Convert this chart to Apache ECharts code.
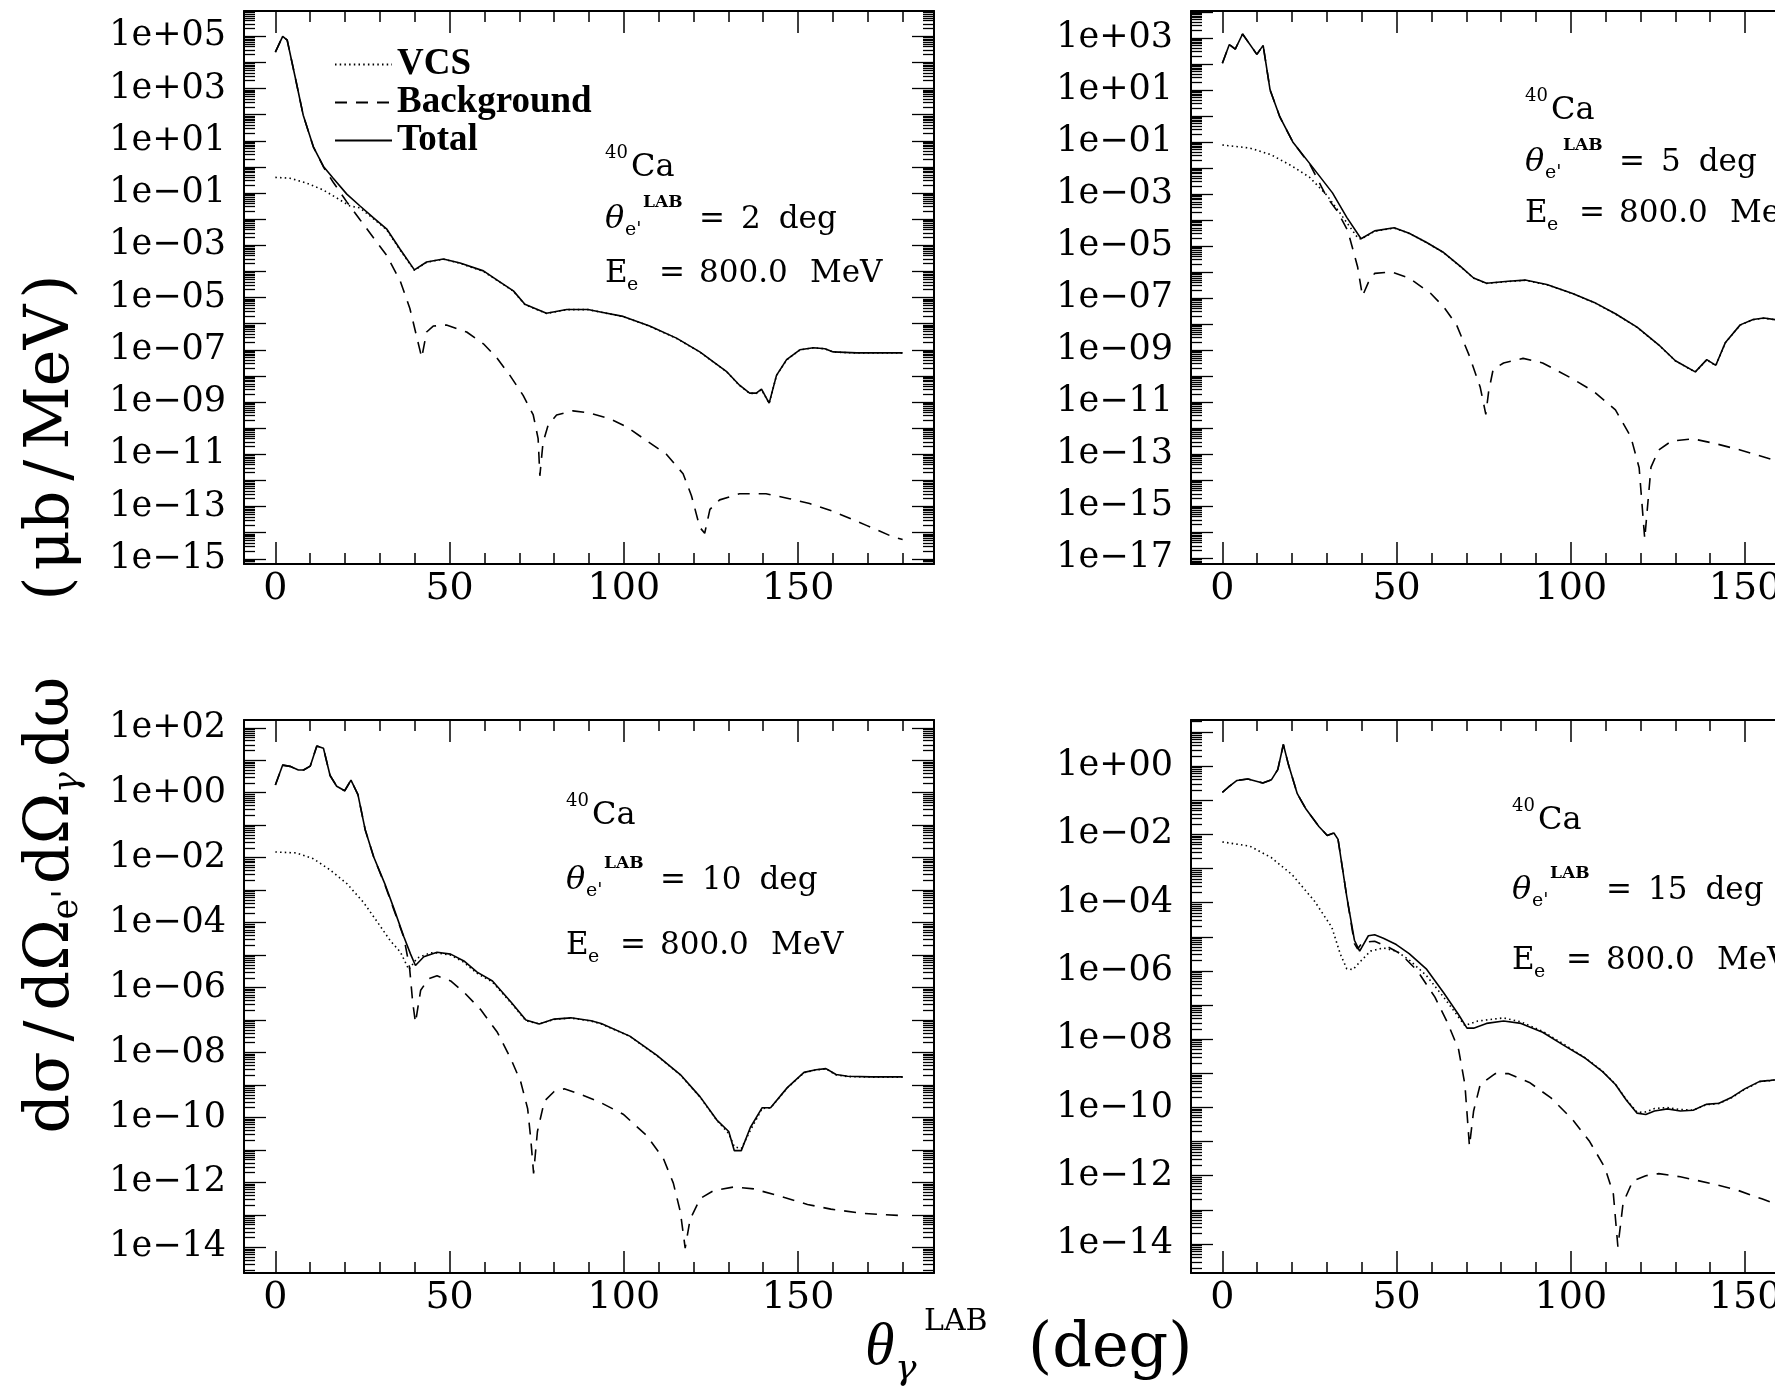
<!DOCTYPE html>
<html lang="en">
<head>
<meta charset="UTF-8">
<title>40Ca VCS and background cross sections</title>
<script src="https://cdn.jsdelivr.net/npm/echarts@6.0.0/dist/echarts.min.js"></script>
<style>
  html, body { margin: 0; padding: 0; background: #fff; }
  #main { width: 1775px; height: 1388px; }
</style>
</head>
<body>
<div id="main"></div>
<script>
// photon angle (deg) vs cross section (ub/MeV)

// theta_e' = 2 deg
var tlTotal = [[0,2.5e4],[2.1,1.0e5],[3.4,7.1e4],[5.6,3.1e3],[8,95],[10.9,5.9],[13.8,1.05],[16.6,0.37],[20.5,0.091],[24.3,0.032],[28.1,0.0115],[31.9,4.3e-3],[35.8,7.1e-4],[39.9,1.15e-4],[43.4,2.3e-4],[48.2,3.0e-4],[53,2.1e-4],[59.7,1.05e-4],[64.4,4.0e-5],[68.3,1.8e-5],[71.6,5.5e-6],[77.8,2.5e-6],[83.6,3.5e-6],[89.7,3.5e-6],[94,2.7e-6],[99.8,1.9e-6],[107.4,8.1e-7],[115.1,2.8e-7],[121.8,8.3e-8],[129.4,1.5e-8],[133.2,4.4e-9],[136.1,2.2e-9],[138,2.2e-9],[139.5,3.1e-9],[141.7,9.1e-10],[143.8,1.05e-8],[146.7,4.2e-8],[150.5,1.0e-7],[154.4,1.2e-7],[157.7,1.1e-7],[160.1,8.3e-8],[166.8,7.6e-8],[180,7.6e-8]];
var tlVcs = [[0,0.40],[4.2,0.37],[9,0.24],[13.8,0.13],[17.6,0.065],[21.4,0.032],[24.3,0.027],[28.1,0.0105],[31.9,4.0e-3],[35.8,6.6e-4],[39.9,1.1e-4],[43.4,2.25e-4],[48.2,2.95e-4],[53,2.05e-4],[59.7,1.0e-4],[64.4,3.9e-5],[68.3,1.75e-5],[71.6,5.4e-6],[77.8,2.45e-6],[83.6,3.45e-6],[89.7,3.45e-6],[94,2.65e-6],[99.8,1.87e-6],[107.4,8.0e-7],[115.1,2.75e-7],[121.8,8.2e-8],[129.4,1.48e-8],[133.2,4.3e-9],[136.1,2.15e-9],[138,2.15e-9],[139.5,3.0e-9],[141.7,8.9e-10],[143.8,1.03e-8],[146.7,4.1e-8],[150.5,9.9e-8],[154.4,1.19e-7],[157.7,1.09e-7],[160.1,8.2e-8],[166.8,7.5e-8],[180,7.5e-8]];
var tlBg = [[0,2.5e4],[2.1,1.0e5],[3.4,7.1e4],[5.6,3.1e3],[8,95],[10.9,5.9],[13.8,1.0],[16.6,0.26],[20.5,0.046],[24.3,9.5e-3],[28.1,2.0e-3],[31.9,4.2e-4],[35.8,4.4e-5],[38.6,3.8e-6],[40.5,3.4e-7],[42,5.0e-8],[43.4,4.8e-7],[45.3,8.1e-7],[49.1,8.9e-7],[54.9,4.8e-7],[59.7,1.7e-7],[63.5,5.0e-8],[67.3,1.05e-8],[71.1,1.8e-9],[74,3.2e-10],[75.4,4.0e-11],[75.9,1.5e-12],[76.8,2.8e-11],[78.3,1.35e-10],[80.7,3.2e-10],[85.4,4.6e-10],[90.2,3.8e-10],[95.9,2.3e-10],[100.7,1.15e-10],[106.4,3.4e-11],[112.2,1.0e-11],[117,1.8e-12],[119.4,2.6e-13],[121.8,1.6e-14],[123.2,9.5e-15],[124.7,7.8e-14],[127.5,1.8e-13],[133.2,3.1e-13],[140.8,3.1e-13],[147.5,2.0e-13],[153.3,1.3e-13],[160.1,6.5e-14],[169.6,1.9e-14],[177.3,6.8e-15],[180,5.5e-15]];

// theta_e' = 5 deg
var trTotal = [[0,105],[2,550],[3.7,370],[5.8,1400],[9.9,230],[11.7,510],[13.7,9.8],[16.5,0.91],[20.2,0.10],[25.2,0.014],[31.6,1.1e-3],[35.7,1.26e-4],[39.8,1.9e-5],[43.7,3.8e-5],[49.3,5.0e-5],[53.6,3.1e-5],[58.5,1.4e-5],[63.5,5.6e-6],[68.4,1.6e-6],[72.1,5.9e-7],[75.8,3.7e-7],[82,4.4e-7],[86.9,4.9e-7],[93.1,3.3e-7],[100.5,1.5e-7],[106.7,6.8e-8],[112.8,2.5e-8],[119,7.6e-9],[125.2,1.6e-9],[130,3.9e-10],[135.7,1.45e-10],[139,4.3e-10],[141.6,2.6e-10],[144.3,1.9e-9],[148.6,9.3e-9],[152.3,1.5e-8],[155.4,1.7e-8],[160,1.4e-8],[168,1.0e-8],[180,1.0e-8]];
var trVcs = [[0,0.076],[7.9,0.058],[14,0.032],[20,0.0117],[25,4.4e-3],[30,8.9e-4],[33.8,1.8e-4],[38.8,2.1e-5],[39.8,1.85e-5],[43.7,3.7e-5],[49.3,4.9e-5],[53.6,3.05e-5],[58.5,1.38e-5],[63.5,5.5e-6],[68.4,1.58e-6],[72.1,5.8e-7],[75.8,3.65e-7],[82,4.3e-7],[86.9,4.8e-7],[93.1,3.25e-7],[100.5,1.48e-7],[106.7,6.7e-8],[112.8,2.45e-8],[119,7.5e-9],[125.2,1.58e-9],[130,3.85e-10],[135.7,1.43e-10],[139,4.2e-10],[141.6,2.55e-10],[144.3,1.88e-9],[148.6,9.2e-9],[152.3,1.48e-8],[155.4,1.68e-8],[160,1.38e-8],[168,9.9e-9],[180,9.9e-9]];
var trBg = [[0,105],[2,550],[3.7,370],[5.8,1400],[9.9,230],[11.7,510],[13.7,9.8],[16.5,0.91],[20.2,0.10],[25.2,0.013],[30,7.4e-4],[33,2.2e-4],[36,3.8e-5],[38.8,1.6e-6],[40.2,1.2e-7],[41.9,4.0e-7],[43.7,8.9e-7],[48.6,1.0e-6],[53.6,5.9e-7],[59.8,1.5e-7],[63.5,4.6e-8],[67.2,9.3e-9],[70.9,5.9e-10],[74,3.7e-11],[75.6,3.4e-12],[76.4,2.5e-11],[77.7,1.8e-10],[80.7,3.2e-10],[86.3,4.8e-10],[91.9,3.2e-10],[100.5,7.9e-11],[106.7,2.5e-11],[112.8,5.0e-12],[117.2,4.7e-13],[119.6,3.0e-14],[121.2,5.6e-17],[123,3.2e-14],[125.2,1.45e-13],[128.9,3.2e-13],[135,3.9e-13],[141.2,2.6e-13],[148.6,1.45e-13],[157.3,6.5e-14],[168,2.5e-14],[180,7.9e-15]];

// theta_e' = 10 deg
var blTotal = [[0,1.74],[2.1,7.1],[4.2,6.5],[6.6,5.0],[8.1,5.0],[10,6.6],[11.9,27.5],[13.8,23.4],[15.7,3.4],[17.6,1.58],[19.9,1.15],[21.7,2.45],[23.7,0.87],[25.8,0.071],[28.2,0.0107],[31.6,1.4e-3],[34,2.75e-4],[36.9,3.6e-5],[38.8,1.07e-5],[40.2,4.8e-6],[42.6,8.9e-6],[46.4,1.23e-5],[50.3,1.07e-5],[54.1,6.6e-6],[57.9,3.0e-6],[62.3,1.6e-6],[67.6,3.6e-7],[71.9,1.0e-7],[75.7,7.6e-8],[80,1.07e-7],[84.8,1.17e-7],[90.6,9.5e-8],[93.5,7.8e-8],[101.7,3.2e-8],[109.4,8.3e-9],[116.2,2.1e-9],[121.9,4.3e-10],[126.7,8.3e-11],[130.1,3.7e-11],[131.7,9.5e-12],[133.7,9.5e-12],[136.3,4.9e-11],[139.7,2.0e-10],[142.1,2.0e-10],[146.9,8.3e-10],[151.7,2.45e-9],[155.1,2.95e-9],[158,3.2e-9],[160.9,2.1e-9],[164.2,1.86e-9],[171,1.78e-9],[180,1.78e-9]];
var blVcs = [[0,0.015],[6.1,0.014],[10.9,9.3e-3],[15.7,4.2e-3],[20.5,1.6e-3],[25.3,4.2e-4],[29.2,1.07e-4],[33,2.75e-5],[35.9,1.23e-5],[38.3,3.6e-6],[40.7,8.1e-6],[44.5,1.17e-5],[46.4,1.17e-5],[50.3,1.0e-5],[54.1,6.0e-6],[57.9,2.75e-6],[62.3,1.48e-6],[67.6,3.4e-7],[71.9,9.5e-8],[75.7,7.6e-8],[80,1.05e-7],[84.8,1.15e-7],[90.6,9.3e-8],[93.5,7.6e-8],[101.7,3.15e-8],[109.4,8.1e-9],[116.2,2.05e-9],[121.9,4.2e-10],[126.7,8.1e-11],[130.1,3.2e-11],[131.7,1.26e-11],[133.7,1.1e-11],[136.3,4.0e-11],[139.7,1.9e-10],[142.1,1.95e-10],[146.9,8.1e-10],[151.7,2.4e-9],[155.1,2.9e-9],[158,3.15e-9],[160.9,2.05e-9],[164.2,1.82e-9],[171,1.75e-9],[180,1.75e-9]];
var blBg = [[0,1.74],[2.1,7.1],[4.2,6.5],[6.6,5.0],[8.1,5.0],[10,6.6],[11.9,27.5],[13.8,23.4],[15.7,3.4],[17.6,1.58],[19.9,1.15],[21.7,2.45],[23.7,0.87],[25.8,0.071],[28.2,0.0107],[31.6,1.3e-3],[34,2.5e-4],[36.9,3.4e-5],[38.5,4.2e-6],[39.4,3.6e-7],[40.2,8.3e-8],[41.7,8.3e-7],[44,1.86e-6],[46.4,2.3e-6],[50.3,1.6e-6],[54.1,7.2e-7],[58.9,2.1e-7],[63.7,4.2e-8],[67.6,6.3e-9],[70.4,1.26e-9],[72.4,1.86e-10],[73.3,2.1e-11],[74.1,1.9e-12],[75.2,3.7e-11],[77.2,3.2e-10],[80,6.3e-10],[82.9,7.6e-10],[86.8,5.5e-10],[92.5,3.2e-10],[99.8,1.26e-10],[106.5,2.8e-11],[111.3,5.6e-12],[114.2,9.5e-13],[116.2,1.26e-13],[117.6,9.5e-15],[119,7.2e-14],[121.9,3.2e-13],[125.8,5.6e-13],[131.5,7.2e-13],[137.3,6.3e-13],[145,3.7e-13],[152.7,2.1e-13],[159.4,1.5e-13],[169,1.1e-13],[179.6,9.5e-14]];

// theta_e' = 15 deg
var brTotal = [[0,0.17],[1.7,0.24],[4.2,0.38],[7.3,0.42],[11.6,0.32],[14.1,0.40],[15.9,0.79],[17.5,4.3],[19,1.07],[21.5,0.155],[24,0.055],[27.7,0.017],[30.1,9.3e-3],[32,0.011],[33.2,7.1e-3],[35.7,1.5e-4],[37.9,7.9e-6],[39.4,3.8e-6],[41.9,1.07e-5],[43.7,1.15e-5],[46.2,9.1e-6],[49.9,5.9e-6],[53.6,3.2e-6],[58.5,1.15e-6],[63.5,2.3e-7],[67.8,5.2e-8],[70.2,2.1e-8],[72.1,2.1e-8],[75.8,2.9e-8],[80.7,3.4e-8],[85.7,2.9e-8],[91.9,1.6e-8],[98,6.6e-9],[104.2,2.75e-9],[109.1,1.12e-9],[112.8,4.7e-10],[115.9,1.66e-10],[119,6.8e-11],[121.5,6.2e-11],[124,7.9e-11],[127.7,9.1e-11],[131.4,7.9e-11],[135.1,8.3e-11],[138.8,1.23e-10],[142.5,1.32e-10],[146.2,2.0e-10],[149.9,3.5e-10],[154.2,5.8e-10],[157.3,6.2e-10],[165,7.9e-10],[180,1.0e-9]];
var brVcs = [[0,6.0e-3],[7.9,4.5e-3],[14,2.1e-3],[20,6.6e-4],[26.4,1.12e-4],[31.4,1.9e-5],[33.8,3.2e-6],[35.7,1.15e-6],[37.5,1.1e-6],[39.4,1.8e-6],[42.5,3.8e-6],[46.2,4.7e-6],[49.9,3.8e-6],[53.6,2.1e-6],[58.5,7.4e-7],[63.5,1.7e-7],[69.6,2.5e-8],[73.3,3.4e-8],[80.7,4.2e-8],[85.7,3.2e-8],[91.9,1.7e-8],[98,7.1e-9],[104.2,2.8e-9],[109.1,1.15e-9],[112.8,4.8e-10],[115.9,1.7e-10],[119,7.2e-11],[121.5,7.4e-11],[124,9.3e-11],[127.7,1.0e-10],[131.4,8.7e-11],[135.1,8.3e-11],[138.8,1.2e-10],[142.5,1.3e-10],[146.2,1.95e-10],[149.9,3.4e-10],[154.2,5.7e-10],[157.3,6.1e-10],[165,7.8e-10],[180,9.8e-10]];
var brBg = [[0,0.17],[1.7,0.24],[4.2,0.38],[7.3,0.42],[11.6,0.32],[14.1,0.40],[15.9,0.79],[17.5,4.3],[19,1.07],[21.5,0.155],[24,0.055],[27.7,0.017],[30.1,9.3e-3],[32,0.011],[33.2,7.1e-3],[35.7,1.5e-4],[37.9,6.3e-6],[38.8,4.4e-6],[40.2,6.8e-6],[43.7,7.4e-6],[47.4,5.1e-6],[51.1,3.2e-6],[56,1.0e-6],[61,1.7e-7],[64.7,2.9e-8],[67.8,4.9e-9],[69.6,4.7e-10],[70.9,7.4e-12],[72.1,7.9e-11],[74,4.7e-10],[78.3,9.8e-10],[82,9.8e-10],[88.1,5.4e-10],[94.3,1.9e-10],[100.5,4.4e-11],[105.4,1.0e-11],[109.8,1.7e-12],[112.2,2.9e-13],[113.5,8.3e-15],[115,1.6e-13],[117.8,7.1e-13],[121.5,1.0e-12],[125.2,1.15e-12],[131.4,9.3e-13],[140,6.0e-13],[147.4,3.9e-13],[154.8,2.1e-13],[157.9,1.6e-13],[168,1.0e-13],[180,6.3e-14]];

// tick labels
var xLabels = [0, 50, 100, 150];
var xMinor = [10, 20, 30, 40, 60, 70, 80, 90, 110, 120, 130, 140, 160, 170, 180];
var yLabelsTL = [1e5, 1e3, 1e1, 1e-1, 1e-3, 1e-5, 1e-7, 1e-9, 1e-11, 1e-13, 1e-15];
var yLabelsTR = [1e3, 1e1, 1e-1, 1e-3, 1e-5, 1e-7, 1e-9, 1e-11, 1e-13, 1e-15, 1e-17];
var yLabelsBL = [1e2, 1e0, 1e-2, 1e-4, 1e-6, 1e-8, 1e-10, 1e-12, 1e-14];
var yLabelsBR = [1e0, 1e-2, 1e-4, 1e-6, 1e-8, 1e-10, 1e-12, 1e-14];
var seriesNames = ['VCS', 'Background', 'Total'];

// layout of the four frames (y ranges are log10 of the axis ends)
var panels = [
  { left: 244, top: 11, lo: -15.2, hi: 5.97, labels: yLabelsTL, vcs: tlVcs, bg: tlBg, total: tlTotal,
    th: '2', ax: 605, ay: [168, 220, 274] },
  { left: 1191, top: 11, lo: -17.22, hi: 4.03, labels: yLabelsTR, vcs: trVcs, bg: trBg, total: trTotal,
    th: '5', ax: 1525, ay: [111, 163, 214] },
  { left: 244, top: 720, lo: -14.79, hi: 2.24, labels: yLabelsBL, vcs: blVcs, bg: blBg, total: blTotal,
    th: '10', ax: 566, ay: [816, 881, 946] },
  { left: 1191, top: 720, lo: -14.85, hi: 1.35, labels: yLabelsBR, vcs: brVcs, bg: brBg, total: brTotal,
    th: '15', ax: 1512, ay: [821, 891, 961] }
];
var gridW = 690, gridH = 553;

var serif = 'DejaVu Serif';

function decades(lo, hi) {
  var a = [];
  for (var e = Math.ceil(lo); e <= Math.floor(hi); e++) a.push(Math.pow(10, e));
  return a;
}
function minors(lo, hi) {
  var a = [];
  for (var e = Math.floor(lo); e <= Math.ceil(hi); e++) {
    for (var k = 2; k <= 9; k++) {
      var v = k * Math.pow(10, e), l = Math.log10(v);
      if (l > lo && l < hi) a.push(v);
    }
  }
  return a;
}
function expLabel(v) {
  var e = Math.round(Math.log10(v));
  var n = Math.abs(e);
  return '1e' + (e < 0 ? '\u2212' : '+') + (n < 10 ? '0' : '') + n;
}

var axisLine = { show: true, onZero: false, lineStyle: { color: '#000', width: 2 } };
var noLine = { show: false, onZero: false };

function xAx(g, pos, ticks, len, withLabel, line) {
  return {
    type: 'value', gridIndex: g, position: pos, min: -9, max: 189,
    axisLine: line ? axisLine : noLine,
    axisTick: { show: true, inside: true, length: len, customValues: ticks,
      lineStyle: { color: '#000', width: 1.5 } },
    axisLabel: withLabel ? { show: true, customValues: xLabels, margin: 6, color: '#000',
      fontFamily: serif, fontSize: 38 } : { show: false },
    splitLine: { show: false }
  };
}
function yAx(g, p, pos, ticks, len, withLabel, line) {
  return {
    type: 'log', logBase: 10, gridIndex: g, position: pos,
    min: Math.pow(10, p.lo), max: Math.pow(10, p.hi),
    axisLine: line ? axisLine : noLine,
    axisTick: { show: true, inside: true, length: len, customValues: ticks,
      lineStyle: { color: '#000', width: 1.3 } },
    axisLabel: withLabel ? { show: true, customValues: p.labels, margin: 18, color: '#000',
      fontFamily: serif, fontSize: 35, formatter: expLabel } : { show: false },
    splitLine: { show: false },
    minorTick: { show: false }
  };
}

var grids = [], xAxes = [], yAxes = [], series = [];
panels.forEach(function (p, g) {
  grids.push({ left: p.left, top: p.top, width: gridW, height: gridH,
    containLabel: false, outerBoundsMode: 'none', show: false });
  xAxes.push(xAx(g, 'bottom', xLabels, 22, true, true));
  xAxes.push(xAx(g, 'bottom', xMinor, 11, false, false));
  xAxes.push(xAx(g, 'top', xLabels, 22, false, true));
  xAxes.push(xAx(g, 'top', xMinor, 11, false, false));
  var dec = decades(p.lo, p.hi), mn = minors(p.lo, p.hi);
  yAxes.push(yAx(g, p, 'left', dec, 22, true, true));
  yAxes.push(yAx(g, p, 'left', mn, 11, false, false));
  yAxes.push(yAx(g, p, 'right', dec, 22, false, true));
  yAxes.push(yAx(g, p, 'right', mn, 11, false, false));
  var sets = [[p.vcs, [1.5, 3.2], 'VCS'], [p.bg, [12, 9], 'Background'], [p.total, 'solid', 'Total']];
  sets.forEach(function (s) {
    series.push({
      name: s[2], type: 'line', xAxisIndex: 4 * g, yAxisIndex: 4 * g,
      data: s[0], showSymbol: false, symbol: 'none', silent: true, clip: true,
      itemStyle: { color: '#000' },
      lineStyle: { color: '#000', width: 1.6, type: s[1] }
    });
  });
});

// text pieces placed by hand (sub/superscripts)
var mctx = document.createElement('canvas').getContext('2d');
function textWidth(t, size, st) {
  mctx.font = (st || 'normal') + ' normal ' + size + 'px "' + serif + '"';
  return mctx.measureText(t).width;
}
function T(t, x, y, size, o) {
  o = o || {};
  return {
    type: 'text', x: x, y: y, silent: true, z: 100,
    style: { text: t, fontSize: size, fontFamily: o.fam || serif, fontStyle: o.st || 'normal',
      fontWeight: o.w || 'normal', fill: '#000', align: o.align || 'left', verticalAlign: 'middle',
      textAlign: o.align || 'left', textVerticalAlign: 'middle' }
  };
}
function annot(p) {
  var x = p.ax, y = p.ay, fs = 31;
  var degX = x + 136 + textWidth(p.th, fs) + 18;
  return [
    T('40', x, y[0] - 15, 18),
    T('Ca', x + 26, y[0], 32),
    T('\u03b8', x, y[1], 32, { st: 'italic' }),
    T("e'", x + 20, y[1] + 10, 19),
    T('LAB', x + 38, y[1] - 17, 17, { w: 'bold' }),
    T('=', x + 94, y[1], fs),
    T(p.th, x + 136, y[1], fs),
    T('deg', degX, y[1], fs),
    T('E', x, y[2], fs),
    T('e', x + 22, y[2] + 11, 19),
    T('=', x + 54, y[2], fs),
    T('800.0', x + 94, y[2], fs),
    T('MeV', x + 205, y[2], fs)
  ];
}

var yTitleParts = [
  { t: 'd\u03c3', s: 62, after: 10 }, { t: '/', s: 62, after: 10 }, { t: 'd\u03a9', s: 62 },
  { t: "e'", s: 35, dy: 16, after: 5 }, { t: 'd\u03a9', s: 62 },
  { t: '\u03b3', s: 35, dy: 17, st: 'italic', after: 5 }, { t: 'd\u03c9', s: 62, after: 76 },
  { t: '(', s: 62, after: 6 }, { t: '\u03bcb', s: 62, after: 10 }, { t: '/', s: 62, after: 10 },
  { t: 'MeV', s: 62, after: 6 }, { t: ')', s: 62 }
];
var yW = 0;
yTitleParts.forEach(function (q) { q.w = textWidth(q.t, q.s, q.st); yW += q.w + (q.after || 0); });
var yChildren = [], cx = -yW / 2;
yTitleParts.forEach(function (q) {
  yChildren.push(T(q.t, cx, q.dy || 0, q.s, { st: q.st }));
  cx += q.w + (q.after || 0);
});

var elements = [];
panels.forEach(function (p) { elements = elements.concat(annot(p)); });
elements.push({ type: 'group', x: 52, y: 704, rotation: Math.PI / 2, children: yChildren });
elements.push(T('\u03b8', 865, 1348, 60, { fam: 'Liberation Serif', st: 'italic' }));
elements.push(T('\u03b3', 895, 1370, 36, { st: 'italic' }));
elements.push(T('LAB', 924, 1322, 30));
elements.push(T('(deg)', 1028, 1350, 62));

var chart = echarts.init(document.getElementById('main'), null, { renderer: 'canvas' });
chart.setOption({
  animation: false,
  backgroundColor: '#fff',
  grid: grids,
  xAxis: xAxes,
  yAxis: yAxes,
  series: series,
  legend: {
    data: seriesNames, orient: 'vertical', left: 329, top: 41,
    itemWidth: 57, itemHeight: 14, itemGap: 1, selectedMode: false,
    itemStyle: { opacity: 0 },
    textStyle: { fontFamily: 'Liberation Serif', fontWeight: 'bold', fontSize: 37, color: '#000', lineHeight: 37 }
  },
  graphic: { elements: elements }
});
</script>
</body>
</html>
